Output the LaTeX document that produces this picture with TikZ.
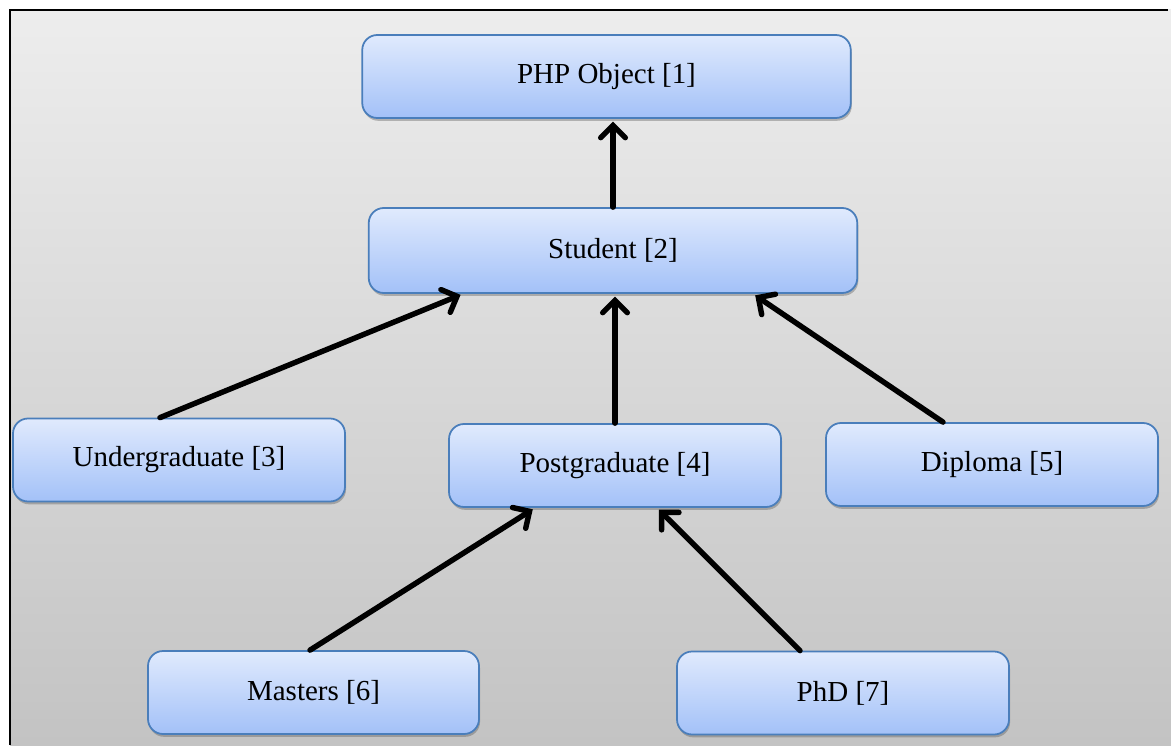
\documentclass[tikz,border=0pt]{standalone}
\usepackage{fontspec}
\setmainfont{LiberationSerif}[Extension=.ttf,UprightFont=*-Regular,BoldFont=*-Bold]
\usepackage{tikz}
\usetikzlibrary{arrows.meta,shadows}

\definecolor{boxtop}{HTML}{E0EAFD}
\definecolor{boxbottom}{HTML}{A3C1F8}
\definecolor{boxline}{HTML}{4A7EBB}
\definecolor{bgtop}{HTML}{EDEDED}
\definecolor{bgbottom}{HTML}{C3C3C3}

\begin{document}
\begin{tikzpicture}[shorten >=1.5pt, auto,
		node_style/.style={rectangle,rounded corners=0.3cm,draw=boxline,line width=1pt,
			top color=boxtop,bottom color=boxbottom,minimum height=1.66cm,minimum width=6.64cm,
			font=\fontsize{16.5}{19}\selectfont,
			drop shadow={shadow xshift=0.6pt,shadow yshift=-1.6pt,opacity=0.35,fill=black!70}},
		wide_style/.style={node_style,minimum width=9.77cm},
		edge_style/.style={draw=black,line width=3.1pt,line cap=round,
			-{Straight Barb[length=7pt,width=14pt,line cap=round]}}]
		
		\useasboundingbox (0,0) rectangle (23.42,-14.9);
		\shade[top color=bgtop,bottom color=bgbottom] (0.2,-0.2) rectangle (23.42,-14.9);
		\draw[line width=1.5pt] (0.2,-14.9) -- (0.2,-0.2) -- (23.42,-0.2);
		
		\node[wide_style] (php) at (12.13,-1.53)  {PHP Object [1]};
		\node[wide_style,minimum height=1.7cm] (st) at (12.26,-5.01)  {Student [2]};
		\node[node_style] (ug) at (3.58,-9.20)  {Undergraduate [3]};
		\node[node_style] (pg) at (12.30,-9.31)  {Postgraduate [4]};
		\node[node_style] (dip) at (19.84,-9.29)  {Diploma [5]};
		\node[node_style,minimum width=6.62cm] (ms) at (6.27,-13.85)  {Masters [6]};
		\node[node_style] (phd) at (16.86,-13.86)  {PhD [7]};
		
		\path  (st.north) edge[edge_style] (st.north |- php.south);
		\path  ([xshift=-0.38cm]ug.north) edge[edge_style] ([xshift=-3cm]st.south);
		\path  (pg.north) edge[edge_style] (pg.north |- st.south);
		\path  ([xshift=-0.98cm]dip.north) edge[edge_style] ([xshift=2.8cm]st.south);
		\path  ([xshift=-0.07cm]ms.north) edge[edge_style] ([xshift=-1.6cm]pg.south);
		\path  ([xshift=-0.86cm]phd.north) edge[edge_style] ([xshift=0.84cm]pg.south);
		
\end{tikzpicture}
\end{document}
